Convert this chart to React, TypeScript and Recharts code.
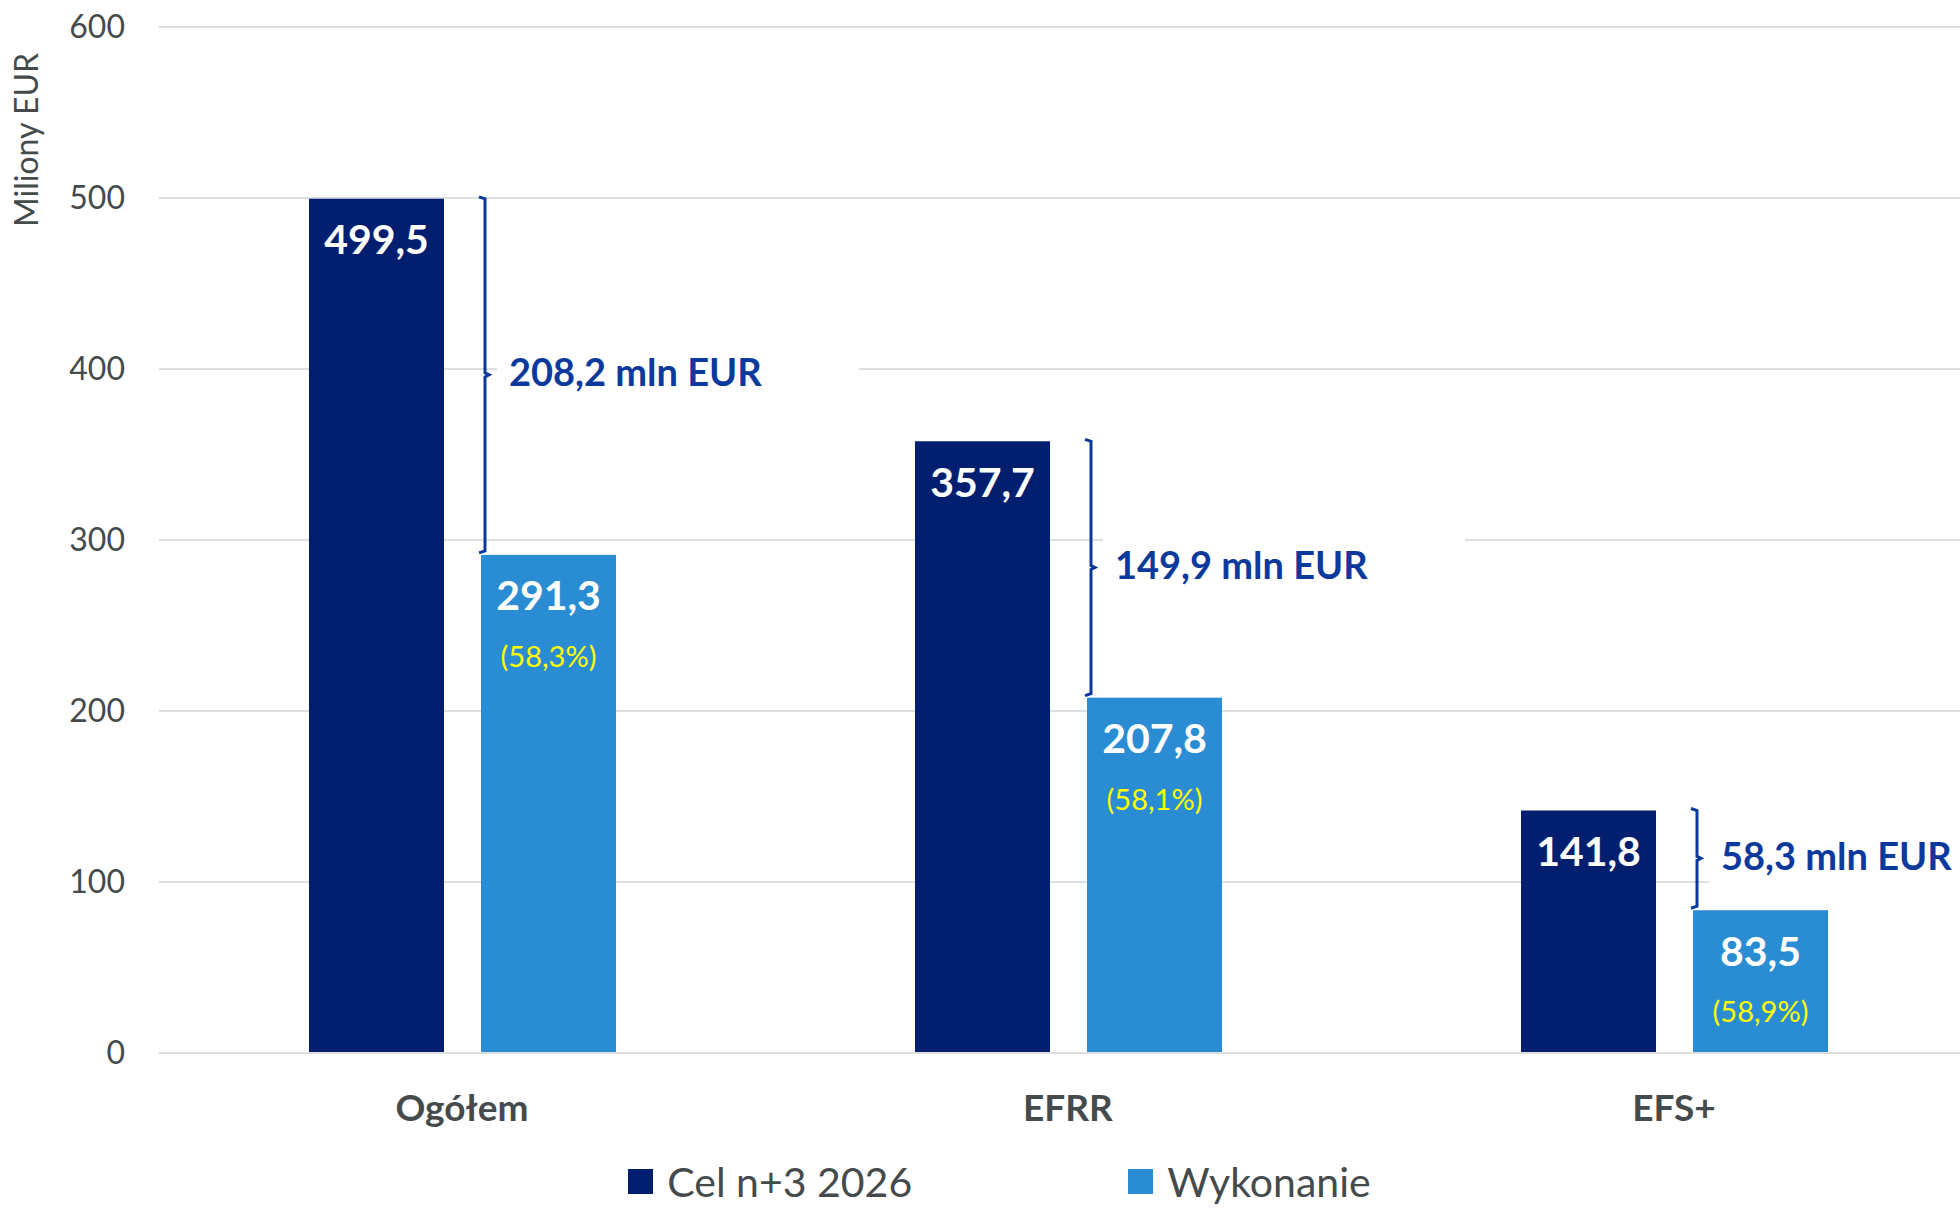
import React from "react"
import { Bar, BarChart, CartesianGrid, LabelList, Legend, XAxis, YAxis } from "recharts"

// values (mln EUR)
const categories = ["Ogółem", "EFRR", "EFS+"]
const targetValues = [499.5, 357.7, 141.8]
const actualValues = [291.3, 207.8, 83.5]
const yTicks = [0, 100, 200, 300, 400, 500, 600]
const seriesNames = ["Cel n+3 2026", "Wykonanie"]

const DARK = "#021F6F"
const LIGHT = "#2A8CD2"
const BRACKET = "#0C399C"
const GREY = "#454B4C"
const FONT = "Lato, 'Noto Sans', sans-serif"

const fmt = (v: number) => v.toFixed(1).replace(".", ",")

const data = categories.map((name, i) => ({
  name,
  target: targetValues[i],
  actual: actualValues[i],
  pct: `(${fmt((actualValues[i] / targetValues[i]) * 100)}%)`,
}))

// label props differ a bit between versions, so read the box either way
const box = (p: any) => {
  const vb = p.viewBox || {}
  return {
    x: Number(vb.x ?? p.x),
    y: Number(vb.y ?? p.y),
    width: Number(vb.width ?? p.width),
    height: Number(vb.height ?? p.height),
  }
}

const ValueLabel = (p: any) => {
  const { x, y, width } = box(p)
  return (
    <text x={x + width / 2} y={y + 41} dy="0.35em" textAnchor="middle" fill="#fff" fontSize={41} fontWeight={700} fontFamily={FONT}>
      {fmt(Number(p.value))}
    </text>
  )
}

const PctLabel = (p: any) => {
  const { x, y, width } = box(p)
  return (
    <text x={x + width / 2} y={y + 102} dy="0.35em" textAnchor="middle" fill="#FFFF00" fontSize={29} fontFamily={FONT}>
      {p.value}
    </text>
  )
}

// light bar plus the bracket showing the gap to the target
const ActualBar = (props: any) => {
  const { x, y, width, height, payload, fill } = props
  const perUnit = height / payload.actual
  const targetTop = y + height - payload.target * perUnit
  const bx = x + 4
  const top = targetTop - 2
  const bottom = y - 2
  const mid = (top + bottom) / 2
  return (
    <g>
      <rect x={x} y={y} width={width} height={height} fill={fill} />
      <rect x={bx + 12} y={mid - 36} width={362} height={72} fill="#fff" />
      <path
        d={`M${bx - 6},${top} L${bx},${top + 2} L${bx},${mid - 2} L${bx + 4},${mid} L${bx},${mid + 2} L${bx},${bottom - 2} L${bx - 6},${bottom}`}
        stroke={BRACKET}
        strokeWidth={3}
        fill="none"
      />
      <text x={bx + 24} y={mid - 2} dy="0.35em" fill={BRACKET} fontSize={38} fontWeight={700} fontFamily={FONT}>
        {fmt(payload.target - payload.actual)} mln EUR
      </text>
    </g>
  )
}

const renderLegend = (props: any) => {
  const items = props.payload || []
  return (
    <div
      style={{
        display: "flex",
        justifyContent: "center",
        alignItems: "center",
        height: 56,
        paddingLeft: 22,
        fontFamily: FONT,
        fontSize: 41,
        color: GREY,
      }}
    >
      {items.map((item: any, i: number) => (
        <div key={i} style={{ display: "flex", alignItems: "center", marginRight: i === 0 ? 216 : 0 }}>
          <span style={{ display: "inline-block", width: 25, height: 25, background: item.color, marginRight: 14 }} />
          <span>{item.value}</span>
        </div>
      ))}
    </div>
  )
}

export default function App() {
  return (
    <div style={{ position: "absolute", left: 0, top: 0, width: 1960, height: 1209, overflow: "hidden", background: "#fff", fontFamily: FONT }}>
      <BarChart width={1977} height={1209} data={data} margin={{ top: 27, right: 0, left: 0, bottom: 0 }} barSize={135} barGap={37}>
        <CartesianGrid vertical={false} stroke="#DEE0E0" strokeWidth={2} />
        <XAxis
          dataKey="name"
          height={100}
          tickSize={0}
          tickMargin={42}
          axisLine={{ stroke: "#DEE0E0", strokeWidth: 2 }}
          tick={{ fontSize: 37, fontWeight: 700, fill: GREY, fontFamily: FONT }}
        />
        <YAxis
          width={159}
          domain={[0, 600]}
          ticks={yTicks}
          tickSize={0}
          tickMargin={34}
          axisLine={false}
          tick={{ fontSize: 32, fill: GREY, fontFamily: FONT }}
          label={{
            value: "Miliony EUR",
            content: (p: any) => {
              const vb = p.viewBox || { y: 27 }
              return (
                <text
                  x={27}
                  y={vb.y + 113}
                  transform={`rotate(-90 27 ${vb.y + 113})`}
                  textAnchor="middle"
                  dy="0.35em"
                  fontSize={32}
                  fill={GREY}
                  fontFamily={FONT}
                >
                  Miliony EUR
                </text>
              )
            },
          }}
        />
        <Legend verticalAlign="bottom" content={renderLegend} />
        <Bar dataKey="target" name={seriesNames[0]} fill={DARK} isAnimationActive={false}>
          <LabelList dataKey="target" content={ValueLabel} />
        </Bar>
        <Bar dataKey="actual" name={seriesNames[1]} fill={LIGHT} shape={ActualBar} isAnimationActive={false}>
          <LabelList dataKey="actual" content={ValueLabel} />
          <LabelList dataKey="pct" content={PctLabel} />
        </Bar>
      </BarChart>
    </div>
  )
}
